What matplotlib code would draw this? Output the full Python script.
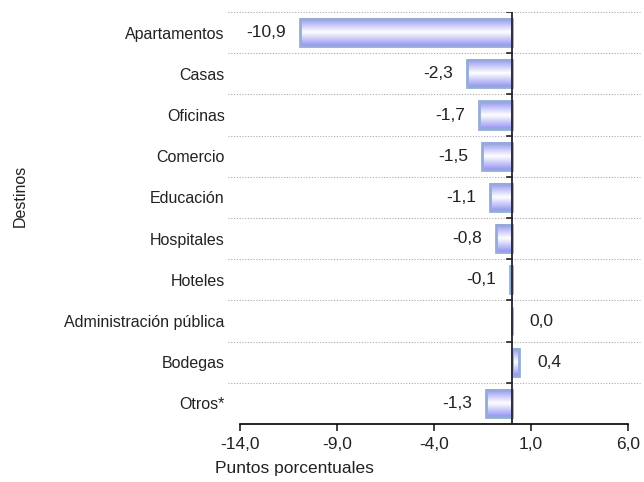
import numpy as np
import matplotlib
matplotlib.use('Agg')
import matplotlib.pyplot as plt
from matplotlib.colors import LinearSegmentedColormap
from matplotlib.patches import Rectangle

plt.rcParams['font.family'] = ['Liberation Sans', 'DejaVu Sans']

destinos = ['Apartamentos', 'Casas', 'Oficinas', 'Comercio', 'Educación',
            'Hospitales', 'Hoteles', 'Administración pública', 'Bodegas', 'Otros*']
valores = [-10.9, -2.3, -1.7, -1.5, -1.1, -0.8, -0.1, 0.0, 0.4, -1.3]
ticks_x = [-14, -9, -4, 1, 6]

fig = plt.figure(figsize=(6.44, 4.82), dpi=100)
ax = fig.add_axes([0.3727, 0.1203, 0.6023, 0.8548])

cmap = LinearSegmentedColormap.from_list('barra', ['#9393f3', '#ffffff', '#9393f3'])
grad = np.linspace(0, 1, 64).reshape(-1, 1)
alto = 0.66

for i, v in enumerate(valores):
    y0 = i - alto / 2
    if v != 0:
        ax.imshow(grad, cmap=cmap, aspect='auto', interpolation='bicubic',
                  extent=[0, v, i + alto / 2, y0], zorder=2)
    ax.add_patch(Rectangle((min(0, v), y0), abs(v), alto, fill=False,
                           edgecolor='#94acd8', linewidth=2, zorder=3))
    txt = '{:.1f}'.format(v).replace('.', ',')
    if v < 0:
        ax.annotate(txt, (v, i), xytext=(-10, 0), textcoords='offset points',
                    ha='right', va='center', fontsize=12.5, color='#222222')
    else:
        ax.annotate(txt, (v, i), xytext=(13, 0), textcoords='offset points',
                    ha='left', va='center', fontsize=12.5, color='#222222')

# separadores punteados entre categorias
for b in np.arange(-0.5, len(destinos) - 0.5, 1.0):
    ax.axhline(b, color='#aaaaaa', linestyle=(0, (1, 1.5)), linewidth=0.8,
               xmin=-0.03, xmax=1.03, clip_on=False, zorder=1)
    ax.plot([-0.22, 0], [b, b], color='#222222', linewidth=1.2, zorder=4)

ax.axvline(0, color='#222233', linewidth=1.3, zorder=4)

ax.set_xlim(-14, 6)
ax.set_ylim(len(destinos) - 0.5, -0.5)
ax.set_xticks(ticks_x)
ax.set_xticklabels(['{:.1f}'.format(t).replace('.', ',') for t in ticks_x], fontsize=12.5)
ax.set_yticks(range(len(destinos)))
ax.set_yticklabels(destinos, fontsize=11.5, color='#222222')
ax.tick_params(axis='y', length=0, pad=11)
ax.tick_params(axis='x', direction='out', length=5, width=1.2, pad=4, colors='#222222')

for s in ['top', 'right', 'left']:
    ax.spines[s].set_visible(False)
ax.spines['bottom'].set_linewidth(1.2)

fig.text(0.334, 0.029, 'Puntos porcentuales', fontsize=12.5, ha='left', va='center',
         color='#222222')
fig.text(0.032, 0.593, 'Destinos', rotation=90, fontsize=11.5, ha='center', va='center',
         color='#222222')

fig.savefig('out.png', dpi=100)
